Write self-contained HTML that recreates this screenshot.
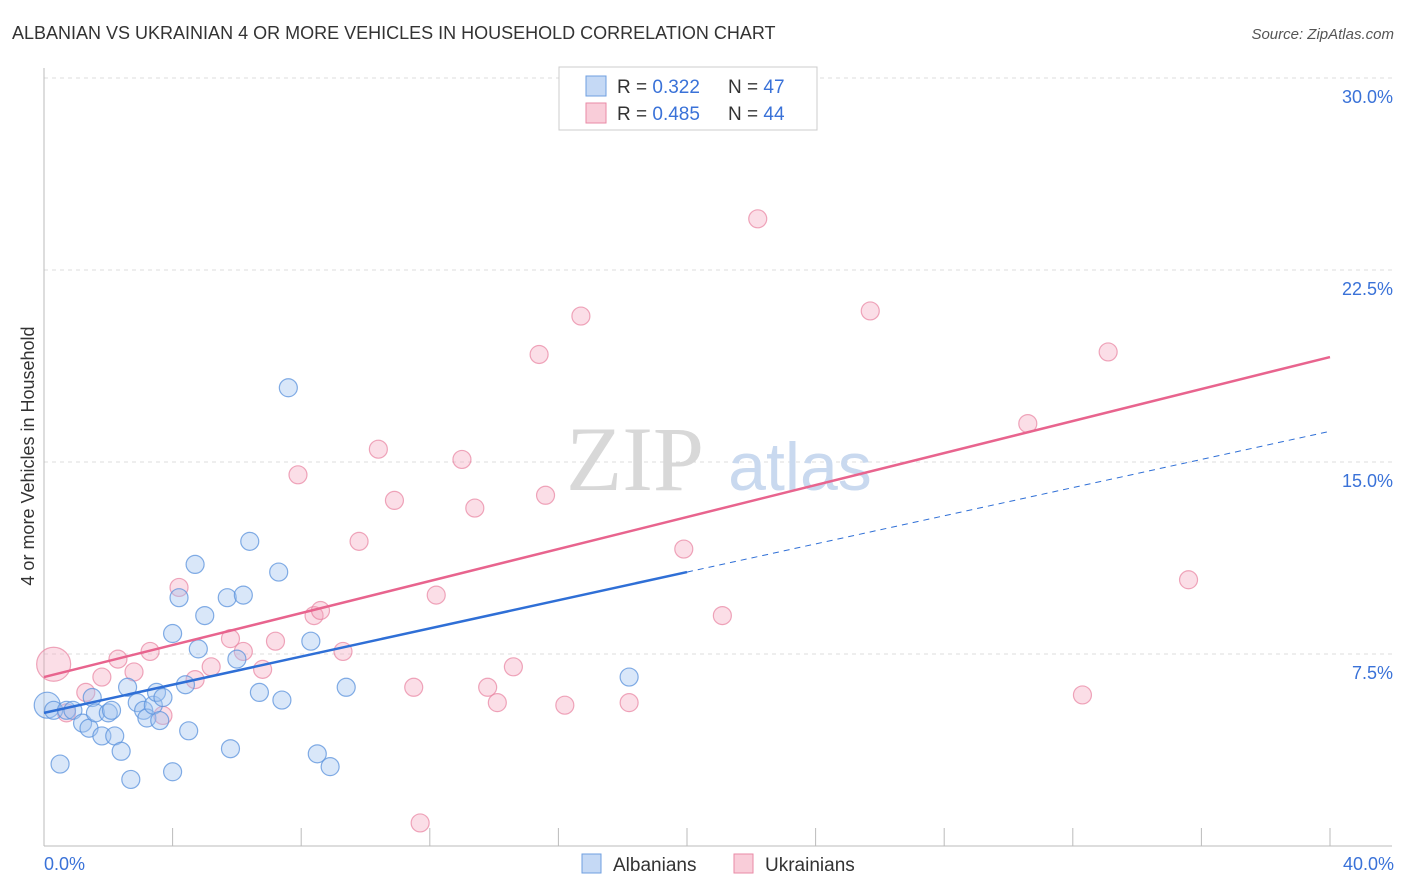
<!DOCTYPE html>
<html><head><meta charset="utf-8"><style>
body{margin:0;background:#fff;font-family:"Liberation Sans",sans-serif;}
svg{display:block}
</style></head><body>
<svg width="1406" height="892">
<text x="12" y="39" font-size="18" fill="#333">ALBANIAN VS UKRAINIAN 4 OR MORE VEHICLES IN HOUSEHOLD CORRELATION CHART</text>
<text x="1394" y="39" font-size="15" fill="#555" text-anchor="end" font-style="italic">Source: ZipAtlas.com</text>
<g id="grid"></g>
<text x="635" y="490" font-size="92" fill="#d8d8d8" font-family="Liberation Serif,serif" text-anchor="middle">ZIP</text>
<text x="800" y="490" font-size="68" fill="#c9d9ef" text-anchor="middle">atlas</text>
<line x1="44" y1="68" x2="44" y2="846" stroke="#bbb"/>
<line x1="44" y1="846" x2="1392" y2="846" stroke="#bbb"/>
<g id="ticks"></g>
<g id="pts"></g>
<g id="lines"></g>
<text transform="translate(34,456) rotate(-90)" font-size="18" fill="#333" text-anchor="middle">4 or more Vehicles in Household</text>
<text x="44" y="870" font-size="18" fill="#3a72d8">0.0%</text>
<text x="1394" y="870" font-size="18" fill="#3a72d8" text-anchor="end">40.0%</text>
<g>
<rect x="559" y="67" width="258" height="63" fill="#fff" stroke="#ccc"/>
<rect x="586" y="76" width="20" height="20" fill="#c5d9f5" stroke="#6f9fe0"/>
<rect x="586" y="103" width="20" height="20" fill="#f9cdd9" stroke="#e98aa6"/>
<text x="617" y="93" font-size="19" fill="#333">R = <tspan fill="#3a72d8">0.322</tspan><tspan x="728">N = </tspan><tspan fill="#3a72d8">47</tspan></text>
<text x="617" y="120" font-size="19" fill="#333">R = <tspan fill="#3a72d8">0.485</tspan><tspan x="728">N = </tspan><tspan fill="#3a72d8">44</tspan></text>
</g>
<g>
<rect x="582" y="854" width="19" height="19" fill="#c5d9f5" stroke="#6f9fe0"/>
<text x="613" y="871" font-size="19" fill="#333">Albanians</text>
<rect x="734" y="854" width="19" height="19" fill="#f9cdd9" stroke="#e98aa6"/>
<text x="765" y="871" font-size="19" fill="#333">Ukrainians</text>
</g>
</svg>
<script>
const yTicks=[7.5,15,22.5,30];
const yTickLabels=["7.5%","15.0%","22.5%","30.0%"];
const xTicks=[4,8,12,16,20,24,28,32,36,40];
const albX=[0.1,0.3,0.5,0.7,0.9,1.2,1.4,1.5,1.6,1.8,2.0,2.1,2.2,2.4,2.6,2.7,2.9,3.1,3.2,3.4,3.5,3.6,3.7,4.0,4.0,4.2,4.4,4.5,4.7,4.8,5.0,5.7,5.8,6.0,6.2,6.4,6.7,7.3,7.4,7.6,8.3,8.5,8.9,9.4,18.2];
const albY=[5.5,5.3,3.2,5.3,5.3,4.8,4.6,5.8,5.2,4.3,5.2,5.3,4.3,3.7,6.2,2.6,5.6,5.3,5.0,5.5,6.0,4.9,5.8,2.9,8.3,9.7,6.3,4.5,11.0,7.7,9.0,9.7,3.8,7.3,9.8,11.9,6.0,10.7,5.7,17.9,8.0,3.6,3.1,6.2,6.6];
const albR=[13,9,9,9,9,9,9,9,9,9,9,9,9,9,9,9,9,9,9,9,9,9,9,9,9,9,9,9,9,9,9,9,9,9,9,9,9,9,9,9,9,9,9,9,9];
const ukrX=[0.3,0.7,1.3,1.8,2.3,2.8,3.3,3.7,4.2,4.7,5.2,5.8,6.2,6.8,7.2,7.9,8.4,8.6,9.3,9.8,10.4,10.9,11.5,11.7,12.2,13.0,13.4,13.8,14.1,14.6,15.4,15.6,16.2,16.7,18.2,19.9,21.1,22.2,25.7,30.6,32.3,33.1,35.6];
const ukrY=[7.1,5.2,6.0,6.6,7.3,6.8,7.6,5.1,10.1,6.5,7.0,8.1,7.6,6.9,8.0,14.5,9.0,9.2,7.6,11.9,15.5,13.5,6.2,0.9,9.8,15.1,13.2,6.2,5.6,7.0,19.2,13.7,5.5,20.7,5.6,11.6,9.0,24.5,20.9,16.5,5.9,19.3,10.4];
const ukrR=[17,9,9,9,9,9,9,9,9,9,9,9,9,9,9,9,9,9,9,9,9,9,9,9,9,9,9,9,9,9,9,9,9,9,9,9,9,9,9,9,9,9,9];
const albTrend=[[0,5.2],[20,10.7],[40,16.2]];
const ukrTrend=[[0,6.6],[40,19.1]];
const X=v=>44+v/40*1286, Y=v=>846-v/30*768;
const NS="http://www.w3.org/2000/svg";
function mk(t,a,p){const e=document.createElementNS(NS,t);for(const k in a)e.setAttribute(k,a[k]);p.appendChild(e);return e;}
const grid=document.getElementById('grid'),ticks=document.getElementById('ticks'),pts=document.getElementById('pts'),lines=document.getElementById('lines');
yTicks.forEach((v,i)=>{
 const l=mk('line',{x1:44,x2:1392,y1:Y(v),y2:Y(v),stroke:'#ddd','stroke-dasharray':'4,4'},grid);
 
 
 const t=mk('text',{x:1393,y:Y(v)+25,'font-size':18,fill:'#3a72d8','text-anchor':'end'},grid);
 t.textContent=yTickLabels[i];
 
 
});
xTicks.forEach(v=>{
 const l=mk('line',{x1:X(v),x2:X(v),y1:828,y2:846,stroke:'#bbb'},ticks);
 
 
});
ukrX.forEach((v,i)=>{
 const c=mk('circle',{cx:X(v),cy:Y(ukrY[i]),r:ukrR[i],fill:'rgba(244,160,185,0.35)',stroke:'rgba(232,130,160,0.7)','stroke-width':1.2},pts);
 
 
});
albX.forEach((v,i)=>{
 const c=mk('circle',{cx:X(v),cy:Y(albY[i]),r:albR[i],fill:'rgba(160,195,240,0.4)',stroke:'rgba(90,145,220,0.75)','stroke-width':1.2},pts);
 
 
});
const l1=mk('line',{x1:X(albTrend[0][0]),y1:Y(albTrend[0][1]),x2:X(albTrend[1][0]),y2:Y(albTrend[1][1]),stroke:'#2f6fd6','stroke-width':2.5},lines);


const l2=mk('line',{x1:X(albTrend[1][0]),y1:Y(albTrend[1][1]),x2:X(albTrend[2][0]),y2:Y(albTrend[2][1]),stroke:'#2f6fd6','stroke-width':1,'stroke-dasharray':'6,5'},lines);


const l3=mk('line',{x1:X(ukrTrend[0][0]),y1:Y(ukrTrend[0][1]),x2:X(ukrTrend[1][0]),y2:Y(ukrTrend[1][1]),stroke:'#e8648e','stroke-width':2.5},lines);


</script>
</body></html>
